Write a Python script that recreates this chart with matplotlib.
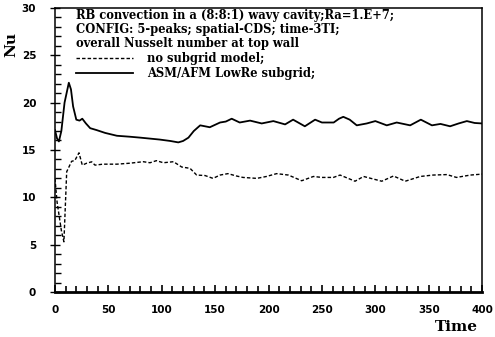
import numpy as np
import matplotlib
matplotlib.use("Agg")
import matplotlib.pyplot as plt
from matplotlib.ticker import MultipleLocator

# solid: ASM/AFM LowRe subgrid
t_asm = [0, 2, 3.7, 6, 9, 13, 15, 17, 20, 23, 25.6, 29, 33, 39, 47, 58, 70, 80, 98, 108, 115.5, 120, 125,
         130, 136, 145, 154.6, 160, 165.5, 173, 182.7, 193.6, 204.5, 215.5, 223, 234, 243.6, 250,
         261, 266, 270, 276, 282.6, 292, 300, 310.7, 320, 332.6, 342.6, 353, 361, 370, 378, 385.7, 393, 400]
nu_asm = [17.1, 16.2, 15.9, 17.0, 20.0, 22.1, 21.4, 19.6, 18.2, 18.1, 18.3, 17.8, 17.3, 17.1, 16.8, 16.5, 16.4, 16.3, 16.1, 15.95, 15.8, 15.95, 16.3,
          17.0, 17.6, 17.4, 17.9, 18.0, 18.3, 17.9, 18.1, 17.8, 18.05, 17.7, 18.2, 17.5, 18.2, 17.9,
          17.9, 18.3, 18.5, 18.2, 17.6, 17.8, 18.05, 17.6, 17.9, 17.6, 18.2, 17.6, 17.75, 17.5, 17.8, 18.05, 17.85, 17.8]

# dashed: no subgrid model
t_nosgs = [0, 2, 4, 6, 8.4, 11, 15.6, 18.7, 22.5, 25.6, 29.7, 34.4, 37.5, 45, 58, 70, 82.7, 89,
           95, 101.5, 111, 118.7, 126.5, 132.7, 140.5, 148, 154.6, 162, 170, 176, 189, 198,
           207.6, 218.6, 231, 242, 250, 260.7, 267, 281, 289, 306, 317, 328, 342, 354,
           367, 376, 389, 400]
nu_nosgs = [12.0, 9.5, 8.0, 6.5, 5.3, 12.7, 13.8, 13.9, 14.7, 13.4, 13.6, 13.75, 13.4, 13.5, 13.5, 13.6, 13.76, 13.65,
            13.87, 13.65, 13.76, 13.2, 13.06, 12.35, 12.3, 12.0, 12.35, 12.5, 12.25, 12.1, 12.0, 12.2,
            12.5, 12.35, 11.75, 12.2, 12.1, 12.1, 12.35, 11.7, 12.2, 11.7, 12.25, 11.7, 12.2, 12.35,
            12.4, 12.1, 12.35, 12.45]

title_lines = ["RB convection in a (8:8:1) wavy cavity;Ra=1.E+7;",
               "CONFIG: 5-peaks; spatial-CDS; time-3TI;",
               "overall Nusselt number at top wall"]

fig = plt.figure(figsize=(4.95, 3.37), dpi=100)
ax = fig.add_axes([0.111, 0.1335, 0.863, 0.843])

ax.plot(t_nosgs, nu_nosgs, color='black', lw=1.0, ls=(0, (2.5, 1.5)), label='no subgrid model;')
ax.plot(t_asm, nu_asm, color='black', lw=1.3, label='ASM/AFM LowRe subgrid;')

ax.set_xlim(0, 400)
ax.set_ylim(0, 30)
ax.xaxis.set_major_locator(MultipleLocator(50))
ax.xaxis.set_minor_locator(MultipleLocator(10))
ax.yaxis.set_major_locator(MultipleLocator(5))
ax.yaxis.set_minor_locator(MultipleLocator(1))
ax.tick_params(axis='x', which='major', direction='in', length=5, width=1.2,
               bottom=True, top=False, pad=9)
ax.tick_params(axis='x', which='minor', direction='in', length=4.5, width=1.2,
               bottom=True, top=False)
ax.tick_params(axis='y', which='major', direction='inout', length=7, width=1, right=False, pad=10)
ax.tick_params(axis='y', which='minor', direction='in', length=4, width=1, right=False)
for lab in ax.get_xticklabels() + ax.get_yticklabels():
    lab.set_fontfamily('DejaVu Sans')
    lab.set_fontweight('bold')
    lab.set_fontsize(7.5)
ax.spines['bottom'].set_linewidth(2)
for s in ['left', 'top', 'right']:
    ax.spines[s].set_linewidth(1.1)

ax.set_ylabel('Nu', fontfamily='DejaVu Serif', fontweight='bold', fontsize=11)
ax.yaxis.set_label_coords(-0.085, 0.87)
ax.text(0.99, -0.1, 'Time', transform=ax.transAxes, ha='right', va='top',
        fontfamily='DejaVu Serif', fontweight='bold', fontsize=11)

leg = ax.legend(loc='upper left', bbox_to_anchor=(0.05, 0.995), frameon=False,
                title='\n'.join(title_lines), alignment='left',
                handlelength=4.9, handletextpad=1.2, borderpad=0, borderaxespad=0,
                labelspacing=0.15,
                prop={'family': 'DejaVu Serif', 'weight': 'bold', 'size': 8.3})
leg.get_title().set_fontfamily('DejaVu Serif')
leg.get_title().set_fontweight('bold')
leg.get_title().set_fontsize(8.3)
leg.get_title().set_linespacing(1.1)

fig.savefig('out.png', dpi=100)
